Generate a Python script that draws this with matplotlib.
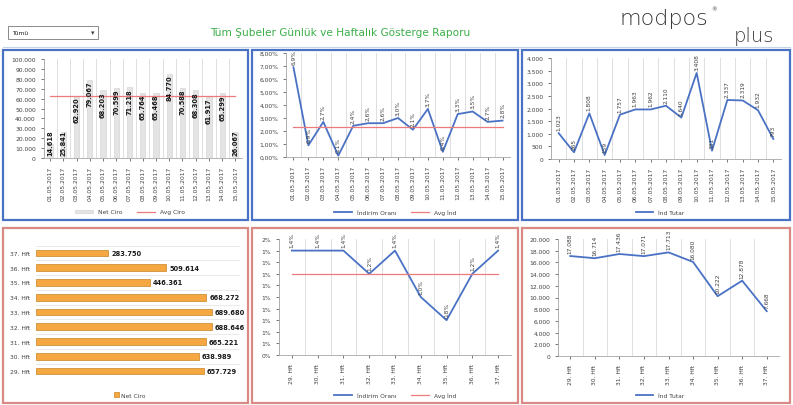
import matplotlib
matplotlib.use('Agg')
import matplotlib.pyplot as plt
from matplotlib.patches import Rectangle
import numpy as np

W, H = 793, 406

# top row: daily
days = ['01.05.2017', '02.05.2017', '03.05.2017', '04.05.2017', '05.05.2017',
        '06.05.2017', '07.05.2017', '08.05.2017', '09.05.2017', '10.05.2017',
        '11.05.2017', '12.05.2017', '13.05.2017', '14.05.2017', '15.05.2017']
net_ciro = [14618, 25841, 62920, 79067, 68203, 70599, 71218, 65764, 65468,
            84770, 70588, 68308, 61917, 65299, 26067]
avg_ciro = 63000
indirim = [6.9, 0.9, 2.7, 0.1, 2.4, 2.6, 2.6, 3.0, 2.1, 3.7, 0.4, 3.3, 3.5, 2.7, 2.8]
avg_ind = 2.3
ind_tutar = [1023, 265, 1808, 159, 1757, 1963, 1962, 2110, 1640, 3408, 331,
             2337, 2319, 1932, 793]

# bottom row: weekly
weeks = ['29. Hft', '30. Hft', '31. Hft', '32. Hft', '33. Hft', '34. Hft',
         '35. Hft', '36. Hft', '37. Hft']
hft_ciro = [657729, 638989, 665221, 688646, 689680, 668272, 446361, 509614, 283750]
hft_indirim = [1.4, 1.4, 1.4, 1.2, 1.4, 1.0, 0.8, 1.2, 1.4]
avg_hft_ind = 1.2
hft_tutar = [17088, 16714, 17436, 17071, 17713, 16080, 10222, 12878, 7668]

BLUE = '#4a72c4'
RED = '#ee7b7b'
TXT = '#404040'
GRID = '#d9d9d9'


def dots(v):
    return f"{int(round(v)):,}".replace(',', '.')


def ax_px(fig, x0, y0, x1, y1):
    return fig.add_axes([x0 / W, 1 - y1 / H, (x1 - x0) / W, (y1 - y0) / H])


def box(fig, x0, y0, x1, y1, color):
    fig.patches.append(Rectangle((x0 / W, 1 - y1 / H), (x1 - x0) / W, (y1 - y0) / H,
                                 transform=fig.transFigure, fill=False,
                                 edgecolor=color, linewidth=1.6))


def style(ax, n):
    ax.set_xlim(-0.5, n - 0.5)
    ax.set_xticks(np.arange(n))
    ax.set_xticks(np.arange(n + 1) - 0.5, minor=True)
    ax.grid(True, which='minor', axis='x', color=GRID, linewidth=0.6)
    ax.tick_params(which='minor', length=0)
    ax.tick_params(axis='both', labelsize=4.3, colors=TXT, length=2, width=0.5)
    for s in ['top', 'right']:
        ax.spines[s].set_visible(False)
    for s in ['left', 'bottom']:
        ax.spines[s].set_color('#a6a6a6')
        ax.spines[s].set_linewidth(0.6)
    ax.set_axisbelow(True)


def legend(ax, xc, yc, ncol, handles=None, **kw):
    if handles is None:
        handles, _ = ax.get_legend_handles_labels()
    opts = dict(handlelength=3)
    opts.update(kw)
    ax.legend(handles=handles, loc='center', bbox_to_anchor=(xc / W, 1 - yc / H),
              bbox_transform=ax.figure.transFigure, ncol=ncol, frameon=False,
              fontsize=4.3, columnspacing=2.5, labelcolor=TXT, **opts)


fig = plt.figure(figsize=(W / 100, H / 100), dpi=100)
fig.patch.set_facecolor('white')

# header
fig.add_artist(Rectangle((8 / W, 1 - 40 / H), 90 / W, 13 / H, transform=fig.transFigure,
                         facecolor='white', edgecolor='#8a8a8a', linewidth=0.7))
fig.text(12 / W, 1 - 33.5 / H, 'Tümü', fontsize=4.3, va='center', color='#202020')
fig.text(93 / W, 1 - 33.5 / H, '▾', fontsize=5, va='center', ha='center', color='#404040')
fig.text(340 / W, 1 - 33 / H, 'Tüm Şubeler Günlük ve Haftalık Gösterge Raporu',
         fontsize=7.6, ha='center', va='center', color='#3cae4a')
fig.text(619 / W, 1 - 19 / H, 'modpos', fontsize=16, ha='left', va='center',
         color='#3a3a3a', family='DejaVu Sans', weight='light')
fig.text(711 / W, 1 - 10 / H, '®', fontsize=4, ha='left', va='center', color='#3a3a3a')
fig.text(774 / W, 1 - 37 / H, 'plus', fontsize=14, ha='right', va='center',
         color='#3a3a3a', family='DejaVu Sans', weight='light')
fig.add_artist(plt.Line2D([3 / W, 790 / W], [1 - 48 / H, 1 - 48 / H],
                          transform=fig.transFigure, color='#c5d3e6', linewidth=0.8))

# frames
box(fig, 3, 51, 248, 221, BLUE)
box(fig, 252, 51, 518, 221, BLUE)
box(fig, 522, 51, 790, 221, BLUE)
box(fig, 3, 229, 248, 404, '#d98a84')
box(fig, 252, 229, 518, 404, '#d98a84')
box(fig, 522, 229, 790, 404, '#d98a84')

n = len(days)
x = np.arange(n)

# top-left: daily net ciro
ax = ax_px(fig, 43.5, 60, 242, 159)
style(ax, n)
bars = ax.bar(x, net_ciro, width=0.4, color='#e4e4e4', edgecolor='#cfcfcf',
              linewidth=0.4, label='Net Ciro')
avg_line, = ax.plot(x, [avg_ciro] * n, color=RED, linewidth=0.9, label='Avg Ciro')
ax.set_ylim(0, 100000)
ax.set_yticks(np.arange(0, 100001, 10000))
ax.set_yticklabels([dots(v) for v in np.arange(0, 100001, 10000)])
ax.set_xticklabels(days, rotation=90)
for i, v in enumerate(net_ciro):
    ax.text(i, max(v, 30000) - 800, dots(v), rotation=90, ha='center', va='top',
            fontsize=4.8, weight='bold', color='#1a1a1a')
legend(ax, 130, 213, 2, handles=[bars, avg_line], handleheight=0.3)

# top-middle: daily discount rate
ax = ax_px(fig, 286, 54, 510, 158)
style(ax, n)
ax.plot(x, indirim, color=BLUE, linewidth=1.3, label='İndirim Oranı')
ax.plot(x, [avg_ind] * n, color=RED, linewidth=0.9, label='Avg İnd')
ax.set_ylim(0, 8)
ax.set_yticks(np.arange(0, 9))
ax.set_yticklabels([f"{v:.2f}%".replace('.', ',') for v in np.arange(0, 9)])
ax.set_xticklabels(days, rotation=90)
for i, v in enumerate(indirim):
    ax.text(i, v + 0.25, f"{v:.1f}%".replace('.', ','), rotation=90, ha='center',
            va='bottom', fontsize=4.2, color=TXT, clip_on=False)
legend(ax, 395, 213, 2)

# top-right: daily discount amount
ax = ax_px(fig, 551, 59, 781, 160)
style(ax, n)
ax.plot(x, ind_tutar, color=BLUE, linewidth=1.3, label='İnd Tutar')
ax.set_ylim(0, 4000)
ax.set_yticks(np.arange(0, 4001, 500))
ax.set_yticklabels([dots(v) for v in np.arange(0, 4001, 500)])
ax.set_xticklabels(days, rotation=90)
for i, v in enumerate(ind_tutar):
    ax.text(i, v + 120, dots(v), rotation=90, ha='center', va='bottom',
            fontsize=4.2, color=TXT, clip_on=False)
legend(ax, 660, 213, 1)

m = len(weeks)
xw = np.arange(m)

# bottom-left: weekly net ciro (horizontal bars)
ax = ax_px(fig, 36, 246.6, 240, 379.4)
yb = np.arange(m)
ax.barh(yb, hft_ciro, height=0.45, color='#f5a742', edgecolor='#c98524', linewidth=0.5,
        label='Net Ciro')
ax.set_ylim(-0.5, m - 0.5)
ax.set_xlim(0, 800000)
ax.set_yticks(yb)
ax.set_yticklabels(weeks)
ax.set_yticks(np.arange(m + 1) - 0.5, minor=True)
ax.grid(True, which='minor', axis='y', color='#e6e6e6', linewidth=0.6)
ax.set_axisbelow(True)
ax.set_xticks([])
ax.tick_params(axis='y', which='both', length=0, labelsize=4.3, colors=TXT, pad=4)
for s in ax.spines.values():
    s.set_visible(False)
for i, v in enumerate(hft_ciro):
    ax.text(v + 12000, i, dots(v), ha='left', va='center', fontsize=4.8,
            weight='bold', color='#1a1a1a')
legend(ax, 130, 396, 1, handlelength=0.8, handleheight=0.8, handletextpad=0.4)

# bottom-middle: weekly discount rate
ax = ax_px(fig, 279, 240, 511, 356)
style(ax, m)
ax.plot(xw, hft_indirim, color=BLUE, linewidth=1.3, label='İndirim Oranı')
ax.plot(xw, [avg_hft_ind] * m, color=RED, linewidth=0.9, label='Avg İnd')
yt = np.linspace(0.5, 1.5, 11)
ax.set_ylim(0.5, 1.5)
ax.set_yticks(yt)
ax.set_yticklabels([f"{round(v):d}%" for v in yt])
ax.set_xticklabels(weeks, rotation=90)
for i, v in enumerate(hft_indirim):
    ax.text(i, v + 0.03, f"{v:.1f}%".replace('.', ','), rotation=90, ha='center',
            va='bottom', fontsize=4.2, color=TXT, clip_on=False)
legend(ax, 395, 396, 2)

# bottom-right: weekly discount amount
ax = ax_px(fig, 558, 240, 779, 357)
style(ax, m)
ax.plot(xw, hft_tutar, color=BLUE, linewidth=1.3, label='İnd Tutar')
ax.set_ylim(0, 20000)
ax.set_yticks(np.arange(0, 20001, 2000))
ax.set_yticklabels([dots(v) for v in np.arange(0, 20001, 2000)])
ax.set_xticklabels(weeks, rotation=90)
for i, v in enumerate(hft_tutar):
    ax.text(i, v + 500, dots(v), rotation=90, ha='center', va='bottom',
            fontsize=4.2, color=TXT, clip_on=False)
legend(ax, 660, 396, 1)

fig.savefig('out.png', dpi=100)
